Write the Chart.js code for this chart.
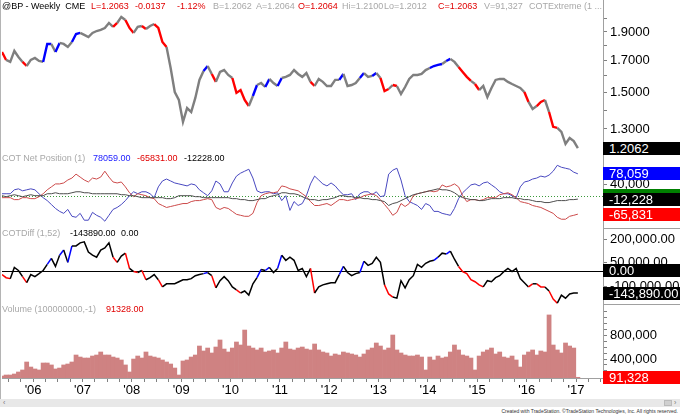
<!DOCTYPE html>
<html>
<head>
<meta charset="utf-8">
<script src="https://cdn.jsdelivr.net/npm/chart.js"></script>
<style>
  html, body { margin: 0; padding: 0; background: #fff; }
  #wrap { position: relative; width: 680px; height: 415px; overflow: hidden; font-family: "Liberation Sans", Arial, sans-serif; }
  canvas { position: absolute; left: 0; }
  .t { position: absolute; white-space: nowrap; line-height: 1; }
  .hd { top: 2px; font-size: 9px; }
  .pl { font-size: 9px; }
  .box { position: absolute; left: 603px; width: 77px; height: 13px; line-height: 13px; font-size: 13px; color: #fff; padding-left: 6px; box-sizing: border-box; white-space: nowrap; overflow: hidden; }
</style>
</head>
<body>
<div id="wrap">
  <canvas id="c1" width="680" height="150" style="top:0px"></canvas>
  <canvas id="c2" width="680" height="78" style="top:150px"></canvas>
  <canvas id="c3" width="680" height="76" style="top:228px"></canvas>
  <canvas id="c4" width="680" height="94" style="top:304px"></canvas>

  <div style="position:absolute;left:0;top:0;width:1px;height:399px;background:#b4b4b4"></div>
  <div style="position:absolute;left:603px;top:228px;width:77px;height:1px;background:#a0a0a0"></div>
  <div style="position:absolute;left:603px;top:304px;width:77px;height:1px;background:#a0a0a0"></div>

  <!-- header -->
  <div class="t hd" style="left:2px;color:#000">@BP - Weekly&nbsp; CME</div>
  <div class="t hd" style="left:91px;color:#e00000">L=1.2063</div>
  <div class="t hd" style="left:135px;color:#e00000">-0.0137</div>
  <div class="t hd" style="left:177px;color:#e00000">-1.12%</div>
  <div class="t hd" style="left:213px;color:#a8a8a8">B=1.2062</div>
  <div class="t hd" style="left:256px;color:#a8a8a8">A=1.2064</div>
  <div class="t hd" style="left:298px;color:#e00000">O=1.2064</div>
  <div class="t hd" style="left:342px;color:#a8a8a8">Hi=1.2100</div>
  <div class="t hd" style="left:384px;color:#a8a8a8">Lo=1.2012</div>
  <div class="t hd" style="left:438px;color:#e00000">C=1.2063</div>
  <div class="t hd" style="left:484px;color:#a8a8a8">V=91,327</div>
  <div class="t hd" style="left:529px;color:#a8a8a8">COTExtreme (1 ...</div>

  <!-- pane titles -->
  <div class="t pl" style="left:2px;top:154px;color:#a8a8a8">COT Net Position (1)</div>
  <div class="t pl" style="left:93px;top:154px;color:#1a1aff">78059.00</div>
  <div class="t pl" style="left:137px;top:154px;color:#e00000">-65831.00</div>
  <div class="t pl" style="left:184px;top:154px;color:#000">-12228.00</div>

  <div class="t pl" style="left:2px;top:229px;color:#a8a8a8">COTDiff (1,52)</div>
  <div class="t pl" style="left:70px;top:229px;color:#000">-143890.00</div>
  <div class="t pl" style="left:121px;top:229px;color:#000">0.00</div>

  <div class="t pl" style="left:2px;top:305px;color:#a8a8a8">Volume (100000000,-1)</div>
  <div class="t pl" style="left:106px;top:305px;color:#e00000">91328.00</div>

  <!-- bottom scroll bar and credit -->
  <div style="position:absolute;left:0;top:399px;width:680px;height:8px;background:#e8e8e8"></div>
  <div class="t" style="left:3px;top:399px;font-size:7px;color:#777">&lsaquo;</div>
  <div style="position:absolute;left:664px;top:400px;width:8px;height:6px;background:#d0d0d0;border:1px solid #bbb;box-sizing:border-box"></div>
  <div class="t" style="left:674px;top:399px;font-size:7px;color:#777">&rsaquo;</div>
  <div class="t" style="right:2px;top:409px;font-size:5px;color:#333">Created with TradeStation. &copy;TradeStation Technologies, Inc. All rights reserved.</div>
</div>

<script>
// monthly samples, first one late May 2005, last one mid Jan 2017
var startYear = 2005.37;

var price = [
  1.757, 1.703, 1.690, 1.764, 1.723, 1.690, 1.663, 1.703, 1.716, 1.696,
  1.690, 1.813, 1.813, 1.757, 1.820, 1.813, 1.792, 1.827, 1.885, 1.893,
  1.878, 1.863, 1.893, 1.907, 1.915, 1.930, 1.968, 1.938, 1.968, 2.015,
  1.991, 1.930, 1.893, 1.938, 1.945, 1.922, 1.945, 1.960, 1.930, 1.827,
  1.792, 1.650, 1.502, 1.456, 1.337, 1.411, 1.389, 1.468, 1.575, 1.631,
  1.663, 1.612, 1.563, 1.625, 1.637, 1.606, 1.587, 1.497, 1.514, 1.456,
  1.422, 1.479, 1.544, 1.556, 1.532, 1.581, 1.556, 1.538, 1.587, 1.594,
  1.606, 1.637, 1.612, 1.594, 1.618, 1.563, 1.538, 1.581, 1.563, 1.538,
  1.538, 1.575, 1.575, 1.612, 1.538, 1.544, 1.556, 1.587, 1.618, 1.594,
  1.600, 1.618, 1.587, 1.508, 1.520, 1.544, 1.538, 1.491, 1.532, 1.581,
  1.606, 1.606, 1.612, 1.637, 1.650, 1.663, 1.670, 1.676, 1.696, 1.710,
  1.690, 1.657, 1.625, 1.594, 1.569, 1.550, 1.514, 1.538, 1.473, 1.526,
  1.575, 1.581, 1.581, 1.563, 1.550, 1.538, 1.526, 1.502, 1.445, 1.406,
  1.422, 1.445, 1.456, 1.389, 1.311, 1.306, 1.285, 1.226, 1.255, 1.240,
  1.2063
];
// bars painted red / blue by COTExtreme
var priceRed = [0, 1, 6, 28, 31, 32, 35, 38, 39, 40, 52, 57, 58, 59, 60, 76, 93, 94, 96, 112, 113, 114, 116, 128, 131, 132, 134, 135];
var priceBlue = [11, 12, 14, 18, 19, 50, 62, 65, 68, 83, 88, 91, 105, 106, 107, 109];

var cotBlue = [
  7000, 7000, 7000, 21000, 24500, 17500, 21000, 24500, 21000, 7000,
  -7000, -17500, -31500, -45500, -56000, -63000, -49000, -73500, -77000, -63000,
  -87500, -87500, -59500, -70000, -77000, -91000, -70000, -49000, -42000, -31500,
  -17500, 0, 14000, 7000, 14000, 14000, 7000, -7000, 31500, 52500,
  59500, 52500, 45500, 42000, 38500, 35000, 42000, 38500, 21000, 10500,
  0, 17500, 52500, 42000, 14000, 14000, 45500, 70000, 80500, 87500,
  94500, 63000, 17500, 10500, 14000, 14000, 7000, 10500, -17500, 0,
  -52500, -21000, -35000, -28000, 0, 42000, 70000, 56000, 42000, 35000,
  45500, 35000, 17500, 3500, 3500, 7000, -14000, 7000, 14000, 14000,
  3500, 14000, -3500, 0, 77000, 91000, 98000, 56000, 0, -21000,
  -28000, -35000, -49000, -28000, -35000, -56000, -56000, -63000, -66500, -70000,
  -45500, -10500, 10500, 24500, 38500, 42000, 35000, 45500, 49000, 38500,
  28000, 14000, 7000, 7000, 0, -7000, 31500, 49000, 52500, 59500,
  63000, 70000, 66500, 73500, 87500, 108500, 101500, 98000, 94500, 84000,
  78059
];
var cotRed = [
  -7000, -7000, -7000, -14000, -14000, -7000, -7000, -10500, -10500, -3500,
  7000, 21000, 31500, 42000, 42000, 45500, 56000, 63000, 77000, 66500,
  56000, 49000, 63000, 59500, 66500, 87500, 66500, 49000, 45500, 49000,
  31500, 10500, -3500, 7000, 3500, 0, -7000, -10500, -28000, -35000,
  -42000, -38500, -35000, -31500, -28000, -28000, -21000, -17500, -17500, -14000,
  -10500, -14000, -42000, -49000, -42000, -45500, -56000, -66500, -70000, -73500,
  -73500, -63000, -24500, 0, 7000, 10500, 10500, 14000, 35000, 31500,
  24500, 21000, 17500, 7000, -3500, -21000, -35000, -35000, -31500, -28000,
  -35000, -24500, -14000, -14000, -17500, -14000, -10500, -7000, 0, 3500,
  7000, 0, -14000, -31500, -49000, -70000, -59500, -28000, -38500, -28000,
  0, 7000, 10500, 14000, 17500, 14000, 17500, 38500, 31500, 35000,
  42000, 31500, 0, -21000, -14000, -14000, -17500, -14000, -7000, -7000,
  -7000, 3500, 7000, 10500, 3500, -7000, -21000, -24500, -28000, -35000,
  -38500, -42000, -49000, -56000, -63000, -77000, -84000, -84000, -73500, -70000,
  -65831
];
var cotBlack = [
  0, -3500, 0, 3500, 0, -3500, 0, 3500, 0, 0,
  0, 7000, 7000, 10500, 7000, 7000, 7000, 10500, 14000, 14000,
  10500, 10500, 7000, 7000, 7000, 7000, 7000, 7000, 7000, 3500,
  3500, 0, 0, -3500, -7000, -7000, -7000, -7000, -7000, -7000,
  -10500, -10500, -7000, 0, 0, 0, 0, -3500, -3500, -7000,
  -7000, -7000, -7000, -7000, -7000, -7000, -10500, -10500, -14000, -14000,
  -17500, -17500, -14000, -10500, -10500, -3500, 0, 3500, 10500, 10500,
  7000, 7000, 3500, -3500, -10500, -14000, -14000, -17500, -14000, -14000,
  -10500, -7000, 0, 0, -3500, -3500, -7000, -7000, -10500, -10500,
  -14000, -14000, -17500, -21000, -35000, -28000, -24500, -17500, -10500, -3500,
  3500, 7000, 10500, 14000, 17500, 21000, 24500, 21000, 21000, 17500,
  10500, 0, -7000, -10500, -14000, -14000, -17500, -17500, -14000, -10500,
  -10500, -10500, -7000, -7000, -7000, -10500, -10500, -14000, -14000, -17500,
  -21000, -21000, -24500, -24500, -21000, -17500, -17500, -17500, -14000, -14000,
  -12228
];

var cotDiff = [
  -26000, -46000, -52000, 20000, 0, -39000, -78000, -26000, -39000, -20000,
  0, 39000, 78000, 26000, 98000, 131000, 52000, 157000, 157000, 177000,
  183000, 118000, 98000, 85000, 131000, 144000, 177000, 85000, 52000, 92000,
  111000, 13000, -7000, -13000, 0, -59000, -46000, -26000, -59000, -105000,
  -85000, -85000, -85000, -72000, -59000, -59000, -52000, -33000, -26000, -20000,
  -13000, -33000, -111000, -65000, -39000, -65000, -105000, -124000, -144000, -131000,
  -157000, -85000, -46000, 7000, 0, 20000, -13000, 13000, 98000, 65000,
  85000, 65000, 0, 13000, -39000, 13000, -144000, -105000, -92000, -85000,
  -78000, -78000, -26000, 26000, -13000, -33000, -20000, -13000, 59000, 33000,
  46000, 85000, 52000, -92000, -150000, -170000, -177000, -65000, -111000, -59000,
  -33000, 39000, 20000, 46000, 59000, 65000, 85000, 111000, 105000, 124000,
  72000, 26000, -7000, -20000, -59000, -72000, -92000, -105000, -65000, -72000,
  -46000, -33000, -7000, 13000, -7000, 13000, -52000, -78000, -105000, -85000,
  -85000, -105000, -105000, -131000, -183000, -209000, -157000, -177000, -150000, -144000,
  -143890
];
var diffRed = [1, 2, 6, 28, 31, 33, 35, 39, 52, 58, 76, 94, 95, 112, 113, 114, 115, 116, 117, 129, 131, 132, 134, 135];
var diffBlue = [12, 15, 17, 50, 63, 65, 68, 83, 88, 106, 109];

var volume = [
  113000, 130000, 130000, 147000, 181000, 215000, 350000, 265000, 232000, 215000,
  333000, 333000, 300000, 232000, 248000, 300000, 316000, 350000, 468000, 434000,
  417000, 417000, 451000, 468000, 519000, 468000, 468000, 434000, 417000, 384000,
  300000, 181000, 400000, 451000, 417000, 519000, 451000, 434000, 417000, 384000,
  350000, 316000, 248000, 130000, 367000, 384000, 434000, 468000, 620000, 536000,
  586000, 502000, 603000, 722000, 569000, 519000, 586000, 688000, 637000, 890000,
  620000, 586000, 553000, 586000, 519000, 536000, 553000, 502000, 586000, 688000,
  569000, 553000, 586000, 603000, 569000, 553000, 654000, 553000, 519000, 502000,
  451000, 485000, 468000, 519000, 502000, 485000, 468000, 434000, 485000, 553000,
  586000, 671000, 620000, 553000, 586000, 806000, 553000, 502000, 468000, 451000,
  451000, 468000, 434000, 215000, 434000, 384000, 451000, 417000, 434000, 519000,
  637000, 553000, 468000, 451000, 417000, 215000, 451000, 519000, 553000, 586000,
  485000, 519000, 434000, 417000, 451000, 384000, 265000, 468000, 519000, 553000,
  468000, 536000, 519000, 1145000, 637000, 553000, 502000, 671000, 620000, 586000,
  91328
];

// axis ticks
var priceTicks = [1.3, 1.4, 1.5, 1.6, 1.7, 1.8, 1.9, 2.0];
var priceLabeled = [1.3, 1.5, 1.7, 1.9];
var cotTicks = [40000];
var diffTicks = [200000, 50000, -100000];
var volTicks = [200000, 300000, 400000, 500000, 600000, 700000, 800000, 900000, 1000000, 1100000, 1200000];
var volLabeled = [400000, 800000];
var yearTicks = [2006, 2007, 2008, 2009, 2010, 2011, 2012, 2013, 2014, 2015, 2016, 2017];
var yearLabels = ["'06", "'07", "'08", "'09", "'10", "'11", "'12", "'13", "'14", "'15", "'16", "'17"];

var months = price.map(function (v, i) { return +(startYear + i / 12).toFixed(4); });
var xMin = 2005.37, xMax = 2017.546;

Chart.defaults.font.family = '"Liberation Sans", Arial, sans-serif';
Chart.defaults.color = '#000';

var zeroLine = {
  id: 'zeroLine',
  beforeDatasetsDraw: function (chart, args, opts) {
    if (!opts || !opts.color) return;
    var a = chart.chartArea, ctx = chart.ctx;
    var y = Math.round(chart.scales.y.getPixelForValue(opts.value)) + 0.5;
    ctx.save();
    ctx.strokeStyle = opts.color;
    ctx.lineWidth = opts.width || 1;
    ctx.setLineDash(opts.dash || []);
    ctx.beginPath();
    ctx.moveTo(a.left, y);
    ctx.lineTo(a.right, y);
    ctx.stroke();
    ctx.restore();
  }
};

function paint(redList, blueList, base) {
  return function (c) {
    if (redList.indexOf(c.p1DataIndex) >= 0) return '#ff0000';
    if (blueList.indexOf(c.p1DataIndex) >= 0) return '#0000ff';
    return base;
  };
}

function rightAxis(type, min, max, ticks, label) {
  return {
    type: type, position: 'right', min: min, max: max,
    border: { color: '#a0a0a0' },
    grid: { drawOnChartArea: false, tickLength: 4, color: '#808080' },
    ticks: { font: { size: 13 }, color: '#000', padding: 3, autoSkip: false, callback: label },
    afterBuildTicks: function (s) { s.ticks = ticks.map(function (v) { return { value: v }; }); },
    afterFit: function (s) { s.width = 77; s.paddingTop = 0; s.paddingBottom = 0; }
  };
}

function xAxis(show) {
  return {
    type: 'linear', min: xMin, max: xMax, display: show, offset: false,
    border: { color: '#a0a0a0' },
    grid: { drawOnChartArea: false, tickLength: 4, color: '#808080', offset: false },
    ticks: {
      autoSkip: false, maxRotation: 0, font: { size: 13 }, color: '#000', padding: 1,
      callback: function (v) {
        var k = yearTicks.indexOf(v);
        return k < 0 ? '' : yearLabels[k];
      }
    },
    afterBuildTicks: function (s) {
      var t = [];
      for (var q = 2005.5; q <= 2017.5; q += 0.25) t.push({ value: q });
      s.ticks = t;
    },
    afterFit: function (s) {
      s.height = show ? 20 : 0;
      s.paddingLeft = 0;
      s.paddingRight = 0;
    }
  };
}

function options(yAxis, showX, line) {
  return {
    responsive: false, animation: false, devicePixelRatio: 1,
    layout: { padding: { left: 2, right: 0, top: 0, bottom: 0 } },
    elements: { point: { radius: 0 } },
    plugins: { legend: { display: false }, tooltip: { enabled: false }, zeroLine: line || {} },
    scales: { x: xAxis(showX), y: yAxis }
  };
}

// price pane (log scale)
var c1 = new Chart(document.getElementById('c1'), {
  type: 'line',
  data: { labels: months, datasets: [{
    data: price, borderColor: '#7f7f7f', borderWidth: 2.4, tension: 0,
    segment: { borderColor: paint(priceRed, priceBlue, '#7f7f7f') }
  }] },
  options: options(rightAxis('logarithmic', 1.1974, 2.153, priceTicks, function (v) {
    return priceLabeled.indexOf(v) >= 0 ? v.toFixed(4) : '';
  }), false)
});

// COT net position
var c2 = new Chart(document.getElementById('c2'), {
  type: 'line',
  data: { labels: months, datasets: [
    { data: cotBlack, borderColor: '#4d4d4d', borderWidth: 1 },
    { data: cotRed, borderColor: '#cc4a4a', borderWidth: 1 },
    { data: cotBlue, borderColor: '#4848c0', borderWidth: 1 }
  ] },
  options: options(rightAxis('linear', -115300, 163150, cotTicks, function (v) {
    return v.toLocaleString('en-US');
  }), false, { value: 0, color: '#3a9a3a', dash: [1, 2] }),
  plugins: [zeroLine]
});

// COTDiff
var c3 = new Chart(document.getElementById('c3'), {
  type: 'line',
  data: { labels: months, datasets: [{
    data: cotDiff, borderColor: '#000', borderWidth: 1.5,
    segment: { borderColor: paint(diffRed, diffBlue, '#000') }
  }] },
  options: options(rightAxis('linear', -214200, 271800, diffTicks, function (v) {
    return v.toLocaleString('en-US', { minimumFractionDigits: 2 });
  }), false, { value: 0, color: '#000', width: 1 }),
  plugins: [zeroLine]
});

// volume
var c4 = new Chart(document.getElementById('c4'), {
  type: 'bar',
  data: { labels: months, datasets: [{
    data: volume, backgroundColor: '#cf8282', borderWidth: 0,
    barPercentage: 1, categoryPercentage: 1, clip: 0
  }] },
  options: options(rightAxis('linear', 79430, 1330030, volTicks, function (v) {
    return volLabeled.indexOf(v) >= 0 ? v.toLocaleString('en-US') : '';
  }), true)
});

// last-value boxes on the right axis
var wrap = document.getElementById('wrap');
function addBox(chart, top, value, text, bg) {
  var y = top + chart.scales.y.getPixelForValue(value);
  var d = document.createElement('div');
  d.className = 'box';
  d.style.top = Math.round(y - 6.5) + 'px';
  d.style.background = bg;
  d.textContent = text;
  wrap.appendChild(d);
}
addBox(c1, 0, price[price.length - 1] - 0.0001, '1.2062', '#000');
addBox(c2, 150, cotBlue[cotBlue.length - 1], '78,059', '#0000ff');
addBox(c2, 150, 0, '', '#008000');
addBox(c2, 150, cotBlack[cotBlack.length - 1], '-12,228', '#000');
addBox(c2, 150, cotRed[cotRed.length - 1], '-65,831', '#ff0000');
addBox(c3, 228, 0, '0.00', '#000');
addBox(c3, 228, cotDiff[cotDiff.length - 1], '-143,890.00', '#000');
addBox(c4, 304, volume[volume.length - 1], '91,328', '#ff0000');
</script>
</body>
</html>
